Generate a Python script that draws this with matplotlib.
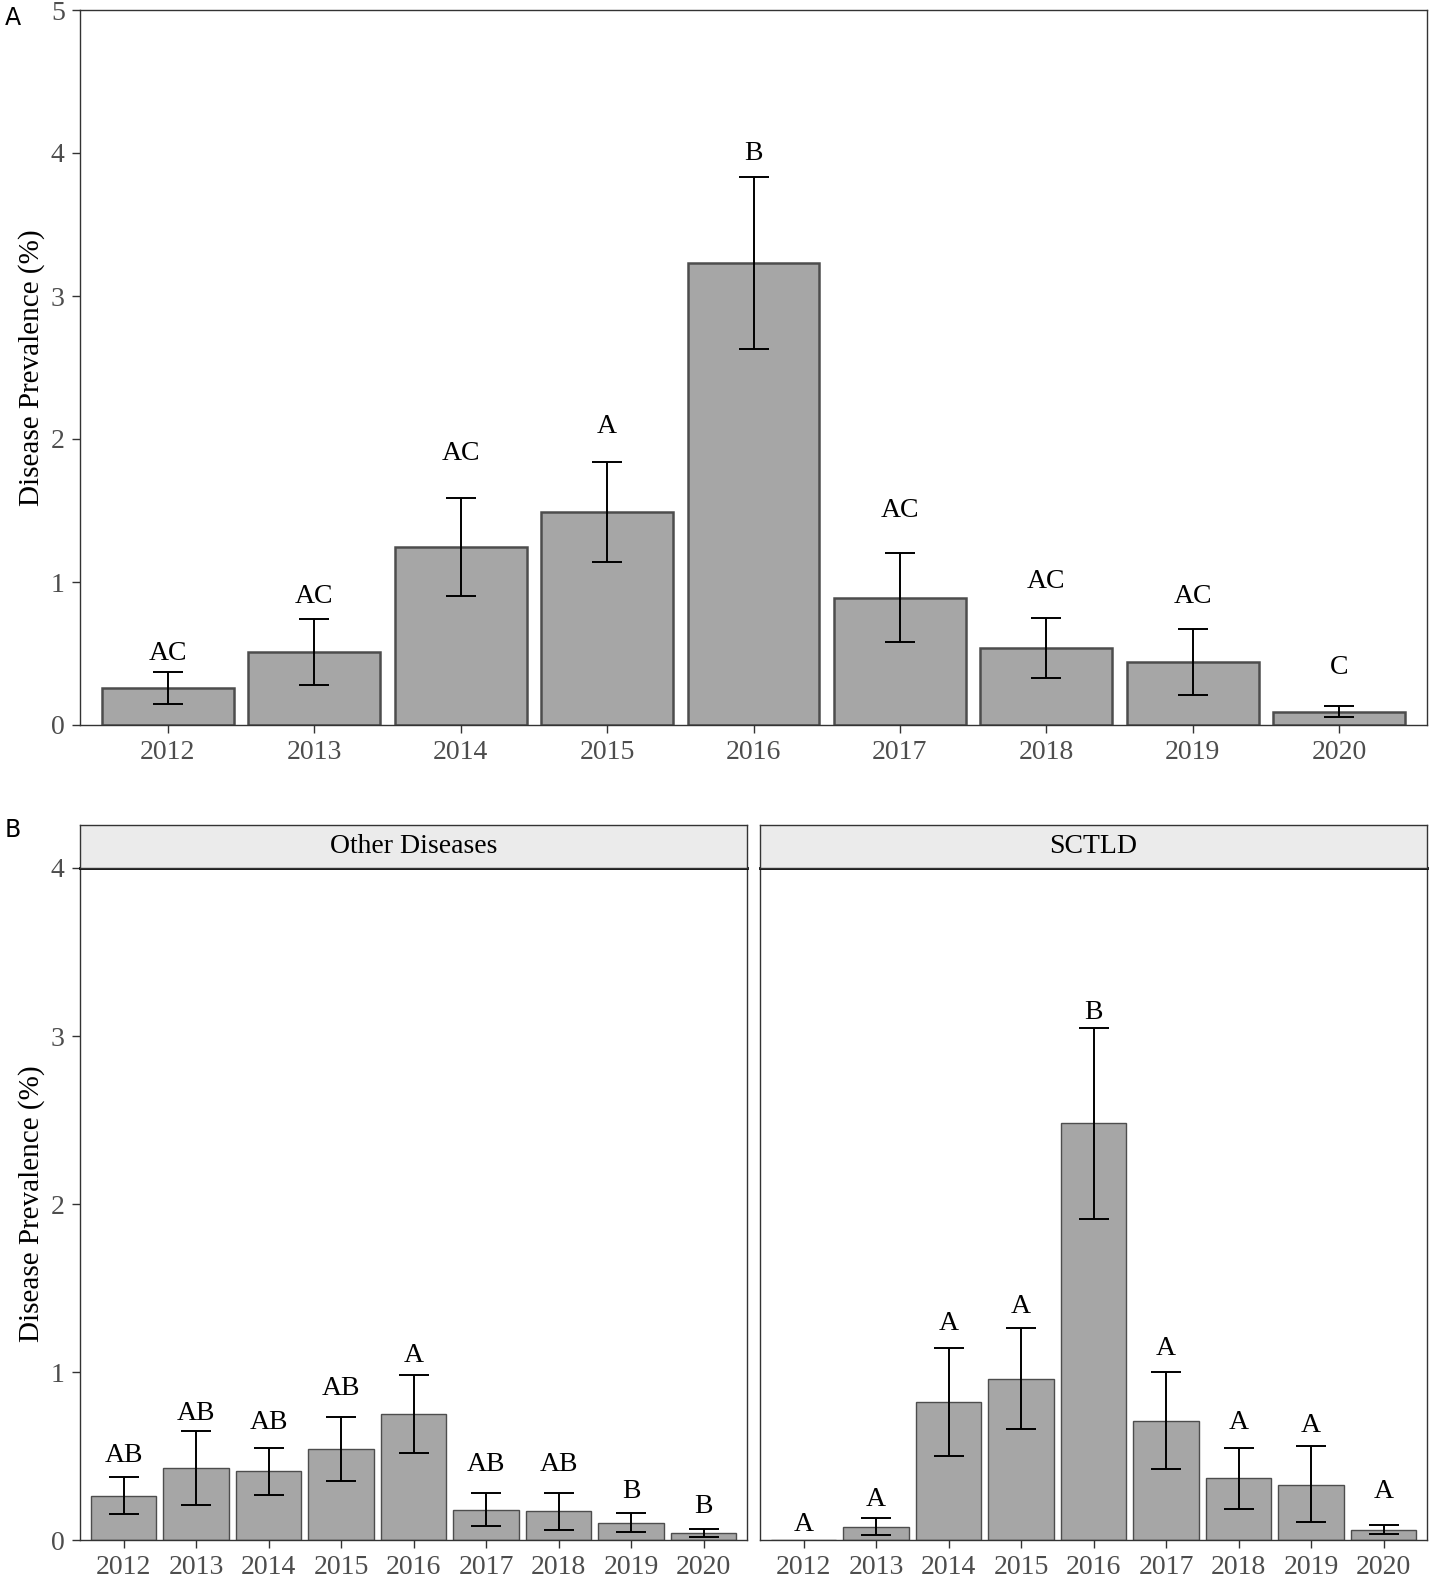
import matplotlib.pyplot as plt
import numpy as np

years = ['2012', '2013', '2014', '2015', '2016', '2017', '2018', '2019', '2020']

# Panel A: all diseases
total_mean = [0.26, 0.51, 1.245, 1.49, 3.23, 0.89, 0.54, 0.44, 0.09]
total_low = [0.15, 0.28, 0.90, 1.14, 2.63, 0.58, 0.33, 0.21, 0.056]
total_high = [0.37, 0.74, 1.59, 1.84, 3.83, 1.20, 0.75, 0.67, 0.13]
total_letters = ['AC', 'AC', 'AC', 'A', 'B', 'AC', 'AC', 'AC', 'C']
total_letter_y = [0.50, 0.90, 1.90, 2.09, 4.00, 1.50, 1.00, 0.90, 0.40]

# Panel B: other diseases
other_mean = [0.26, 0.43, 0.41, 0.54, 0.75, 0.18, 0.17, 0.10, 0.04]
other_low = [0.155, 0.21, 0.27, 0.35, 0.52, 0.083, 0.06, 0.048, 0.018]
other_high = [0.375, 0.65, 0.55, 0.73, 0.98, 0.28, 0.28, 0.16, 0.065]
other_letters = ['AB', 'AB', 'AB', 'AB', 'A', 'AB', 'AB', 'B', 'B']
other_letter_y = [0.50, 0.75, 0.70, 0.90, 1.10, 0.45, 0.45, 0.29, 0.20]

# Panel B: SCTLD
sctld_mean = [0.0, 0.077, 0.82, 0.96, 2.48, 0.71, 0.37, 0.33, 0.06]
sctld_low = [0.0, 0.03, 0.50, 0.66, 1.91, 0.42, 0.185, 0.11, 0.035]
sctld_high = [0.0, 0.13, 1.14, 1.26, 3.05, 1.00, 0.55, 0.56, 0.09]
sctld_letters = ['A', 'A', 'A', 'A', 'B', 'A', 'A', 'A', 'A']
sctld_letter_y = [0.095, 0.24, 1.29, 1.39, 3.14, 1.14, 0.70, 0.68, 0.29]

plt.rcParams['font.family'] = ['Liberation Serif', 'DejaVu Serif']

W, H = 1443, 1586
fig = plt.figure(figsize=(W / 100, H / 100), dpi=100)


def px_axes(x0, y0, x1, y1):
    return fig.add_axes([x0 / W, 1 - y1 / H, (x1 - x0) / W, (y1 - y0) / H])


def draw_bars(ax, mean, low, high, letters, letter_y, ymax, edge_lw):
    x = np.arange(len(years))
    mean = np.array(mean)
    low = np.array(low)
    high = np.array(high)
    ax.bar(x, mean, width=0.9, color='#A6A6A6', edgecolor='#4D4D4D',
           linewidth=edge_lw, zorder=2)
    has_err = high > 0
    ax.errorbar(x[has_err], mean[has_err],
                yerr=[mean[has_err] - low[has_err], high[has_err] - mean[has_err]],
                fmt='none', ecolor='black', elinewidth=1.4, capsize=11,
                capthick=1.4, zorder=3)
    for xi, lab, ly in zip(x, letters, letter_y):
        ax.text(xi, ly, lab, ha='center', va='center', fontsize=20, color='black')
    ax.set_xlim(-0.6, len(years) - 0.4)
    ax.set_ylim(0, ymax)
    ax.set_xticks(x)
    ax.set_xticklabels(years)
    ax.set_yticks(range(0, ymax + 1))
    ax.tick_params(axis='both', colors='#333333', labelcolor='#4D4D4D',
                   labelsize=20, length=6, width=1, pad=5)
    for s in ax.spines.values():
        s.set_color('#333333')
        s.set_linewidth(1.0)


# Panel A
axA = px_axes(80, 10, 1427, 725)
draw_bars(axA, total_mean, total_low, total_high, total_letters,
          total_letter_y, 5, 1.8)
axA.set_ylabel('Disease Prevalence (%)', fontsize=21, labelpad=4)
fig.text(5 / W, 1 - 18 / H, 'A', fontsize=17, family='DejaVu Sans',
         ha='left', va='center')

# Panel B
facets = [
    ('Other Diseases', 80, 747, other_mean, other_low, other_high,
     other_letters, other_letter_y),
    ('SCTLD', 760, 1427, sctld_mean, sctld_low, sctld_high,
     sctld_letters, sctld_letter_y),
]
for i, (title, x0, x1, m, lo, hi, lets, ly) in enumerate(facets):
    ax = px_axes(x0, 868, x1, 1540)
    draw_bars(ax, m, lo, hi, lets, ly, 4, 1.0)
    ax.spines['top'].set_color('black')
    ax.spines['top'].set_linewidth(2.0)
    if i == 0:
        ax.set_ylabel('Disease Prevalence (%)', fontsize=21, labelpad=4)
    else:
        ax.tick_params(axis='y', left=False, labelleft=False)
    strip = px_axes(x0, 825, x1, 868)
    strip.set_facecolor('#EBEBEB')
    strip.set_xticks([])
    strip.set_yticks([])
    for s in strip.spines.values():
        s.set_color('#333333')
        s.set_linewidth(1.0)
    strip.text(0.5, 0.5, title, ha='center', va='center', fontsize=20,
               transform=strip.transAxes)

fig.text(5 / W, 1 - 830 / H, 'B', fontsize=17, family='DejaVu Sans',
         ha='left', va='center')

fig.savefig('out.png', dpi=100)
